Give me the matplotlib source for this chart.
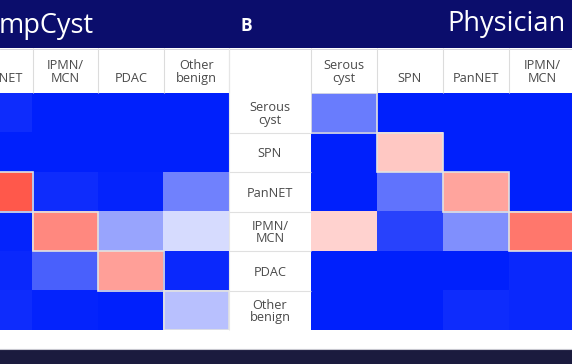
import numpy as np
import matplotlib
matplotlib.use("Agg")
import matplotlib.pyplot as plt
from matplotlib.colors import LinearSegmentedColormap
from matplotlib.patches import Rectangle

plt.rcParams['font.family'] = ['Open Sans', 'DejaVu Sans']

# ---- data ----
row_labels = ["Serous\ncyst", "SPN", "PanNET", "IPMN/\nMCN", "PDAC", "Other\nbenign"]
left_cols = ["PanNET", "IPMN/\nMCN", "PDAC", "Other\nbenign"]
right_cols = ["Serous\ncyst", "SPN", "PanNET", "IPMN/\nMCN"]

# CompCyst (left panel, visible columns) – 0 = deep blue, 0.5 = white, 1 = red
left_vals = np.array([
    [0.03, 0.00, 0.00, 0.00],
    [0.00, 0.00, 0.00, 0.00],
    [0.92, 0.03, 0.01, 0.22],
    [0.01, 0.80, 0.30, 0.42],
    [0.02, 0.145, 0.74, 0.02],
    [0.03, 0.01, 0.00, 0.36],
])
# Physician (right panel, visible columns)
right_vals = np.array([
    [0.21, 0.00, 0.00, 0.00],
    [0.00, 0.64, 0.00, 0.00],
    [0.00, 0.19, 0.73, 0.00],
    [0.61, 0.08, 0.25, 0.84],
    [0.00, 0.00, 0.00, 0.02],
    [0.00, 0.00, 0.03, 0.02],
])
left_diag = [(2, 0), (3, 1), (4, 2), (5, 3)]
right_diag = [(0, 0), (1, 1), (2, 2), (3, 3)]

title_left = "mpCyst"
panel_letter = "B"
title_right = "Physician"

# ---- figure ----
W, H = 572, 364
fig = plt.figure(figsize=(W / 100, H / 100), dpi=100)
fig.patch.set_facecolor("white")

cmap = LinearSegmentedColormap.from_list("bwr2", ["#0020fc", "#ffffff", "#ff3a2a"])

def fax(x0, y0, x1, y1):
    return fig.add_axes([x0 / W, 1 - y1 / H, (x1 - x0) / W, (y1 - y0) / H])

bg = fax(0, 0, W, H)
bg.set_xlim(0, W); bg.set_ylim(H, 0); bg.axis("off")
bg.add_patch(Rectangle((0, 0), W, 48, color="#0b0d6c", lw=0))
bg.add_patch(Rectangle((0, 350), W, 14, color="#1b1b3e", lw=0))
bg.axhline(349, color="#c8c8d0", lw=0.8)
bg.text(-1, 26, title_left, color="white", fontsize=19.5, ha="left", va="center")
bg.text(246, 26, panel_letter, color="white", fontsize=12.5, fontweight="bold", ha="center", va="center")
bg.text(566, 24, title_right, color="white", fontsize=19.5, ha="right", va="center")

top, bottom = 93, 330
cell_h = (bottom - top) / 6
cell_w = 66
header_h = 45
fs = 9.2

def draw_panel(x0, x1, vals, cols, diag, xlo, xhi):
    ax = fax(x0, top, x1, bottom)
    ax.imshow(vals, cmap=cmap, vmin=0, vmax=1, aspect="auto", interpolation="nearest")
    ax.set_xlim(xlo, xhi)
    ax.set_ylim(5.5, -0.5)
    for s in ax.spines.values():
        s.set_visible(False)
    ax.xaxis.tick_top()
    ax.set_xticks(range(len(cols)))
    ax.set_xticklabels(cols, fontsize=fs, color="#4a4a4a", linespacing=0.95)
    ax.tick_params(axis="x", length=0, pad=6)
    ax.set_yticks([])
    hh = header_h / cell_h
    ax.vlines(np.arange(len(cols) + 1) - 0.5, -0.5 - hh, -0.5, colors="#dcdcdc", lw=0.8, clip_on=False)
    for (r, c) in diag:
        ax.add_patch(Rectangle((c - 0.5, r - 0.5), 1, 1, fill=False, ec="#e2e2e2", lw=1.2))
    return ax

axL = draw_panel(0, 229, left_vals, left_cols, left_diag, 0.5 - 31 / cell_w, 3.5)
axR = draw_panel(311, W, right_vals, right_cols, right_diag, -0.5, -0.5 + (W - 311) / cell_w)

# row label column
axR.set_yticks(range(len(row_labels)))
axR.set_yticklabels(row_labels, fontsize=fs, color="#4a4a4a", linespacing=0.95, ha="center")
axR.tick_params(axis="y", length=0, pad=41 * 0.72)
axR.hlines(np.arange(1, 6) - 0.5, -0.5 - 82 / cell_w, -0.5, colors="#e0e0e0", lw=0.8, clip_on=False)
axR.vlines([-0.5 - 82 / cell_w], -0.5 - header_h / cell_h, 5.5, colors="#e6e6e6", lw=0.8, clip_on=False)
bg.axhline(48.5, color="#d0d0d8", lw=0.6)

fig.savefig("out.png", dpi=100)
